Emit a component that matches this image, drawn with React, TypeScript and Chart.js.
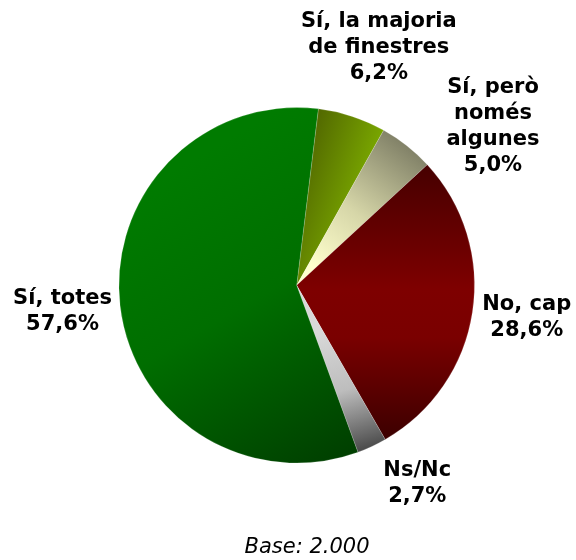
import React, { useEffect, useRef } from "react";
import { Chart, registerables } from "chart.js";

Chart.register(...registerables);

const categories = ["Sí, la majoria de finestres", "Sí, però només algunes", "No, cap", "Ns/Nc", "Sí, totes"];
const labelLines = [["Sí, la majoria", "de finestres"], ["Sí, però", "només", "algunes"], ["No, cap"], ["Ns/Nc"], ["Sí, totes"]];
const values = [6.2, 5.0, 28.6, 2.7, 57.6];
const baseText = "Base: 2.000";

// label placement (style): extra radial distance and pixel nudges
const labelExtra = [73, 68, 55, 53, 58];
const labelNudge = [[4, 1], [44, 34], [0, -3], [23, -11], [0, -1]];

const FONT = "'DejaVu Sans', Verdana, sans-serif";

function makeFill(ctx: any) {
  const chart = ctx.chart;
  const area = chart.chartArea;
  const i = ctx.dataIndex;
  const fallback = ["#6a8c00", "#c8c8a0", "#700000", "#909090", "#006400"][i];
  if (!area) return fallback;
  const c = chart.ctx as CanvasRenderingContext2D;
  const cx = (area.left + area.right) / 2;
  const cy = (area.top + area.bottom) / 2;
  const r = Math.min(area.right - area.left, area.bottom - area.top) / 2;
  let g: CanvasGradient;
  switch (i) {
    case 0:
      g = c.createLinearGradient(cx + r * 0.05, cy - r * 0.9, cx + r * 0.5, cy - r * 0.75);
      g.addColorStop(0, "#4e6200");
      g.addColorStop(1, "#7eae00");
      return g;
    case 1:
      g = c.createLinearGradient(cx + r * 0.1, cy - r * 0.1, cx + r * 0.62, cy - r * 0.78);
      g.addColorStop(0, "#ffffcc");
      g.addColorStop(0.45, "#d6d6a8");
      g.addColorStop(1, "#828268");
      return g;
    case 2:
      g = c.createLinearGradient(cx, cy - r * 0.7, cx, cy + r * 0.9);
      g.addColorStop(0, "#440000");
      g.addColorStop(0.45, "#7e0000");
      g.addColorStop(0.62, "#7a0000");
      g.addColorStop(1, "#380000");
      return g;
    case 3:
      g = c.createLinearGradient(cx, cy + r * 0.3, cx + r * 0.2, cy + r * 0.98);
      g.addColorStop(0, "#d8d8d8");
      g.addColorStop(0.5, "#bdbdbd");
      g.addColorStop(1, "#4a4a4a");
      return g;
    default:
      g = c.createLinearGradient(cx - r * 0.6, cy - r * 0.7, cx + r * 0.35, cy + r * 0.95);
      g.addColorStop(0, "#007b00");
      g.addColorStop(0.45, "#006e00");
      g.addColorStop(1, "#003e00");
      return g;
  }
}

const labelPlugin = {
  id: "outsideLabels",
  afterDraw(chart: any) {
    const ctx = chart.ctx as CanvasRenderingContext2D;
    const meta = chart.getDatasetMeta(0);
    const ds = chart.data.datasets[0].data as number[];
    ctx.save();
    ctx.fillStyle = "#000000";
    ctx.textAlign = "center";
    ctx.textBaseline = "middle";
    ctx.font = `bold 21px ${FONT}`;
    const lh = 26;
    meta.data.forEach((arc: any, i: number) => {
      const p = arc.getProps(["x", "y", "startAngle", "endAngle", "outerRadius"], true);
      const mid = (p.startAngle + p.endAngle) / 2;
      const d = p.outerRadius + labelExtra[i];
      const lx = p.x + Math.cos(mid) * d + labelNudge[i][0];
      const ly = p.y + Math.sin(mid) * d + labelNudge[i][1];
      const lines = [...labelLines[i], ds[i].toFixed(1).replace(".", ",") + "%"];
      const y0 = ly - ((lines.length - 1) * lh) / 2;
      lines.forEach((t, k) => ctx.fillText(t, lx, y0 + k * lh));
    });
    ctx.font = `italic 21px ${FONT}`;
    ctx.fillText(baseText, 307, 548);
    ctx.restore();
  },
};

export default function App() {
  const ref = useRef<HTMLCanvasElement | null>(null);
  useEffect(() => {
    document.body.style.margin = "0";
    if (!ref.current) return;
    const chart = new Chart(ref.current, {
      type: "pie",
      data: {
        labels: categories,
        datasets: [
          {
            data: values,
            backgroundColor: (ctx: any) => makeFill(ctx),
            borderWidth: 0.5,
            borderColor: "rgba(255,255,255,0.35)",
          },
        ],
      },
      options: {
        responsive: false,
        animation: false,
        rotation: 7,
        layout: { padding: { left: 118.7, right: 101.3, top: 107.3, bottom: 96.7 } },
        plugins: {
          legend: { display: false },
          tooltip: { enabled: false },
          title: { display: false },
        },
      },
      plugins: [labelPlugin],
    });
    return () => chart.destroy();
  }, []);
  return (
    <div style={{ position: "absolute", left: 0, top: 0, width: 576, height: 560, background: "#fff" }}>
      <canvas ref={ref} width={576} height={560} />
    </div>
  );
}
